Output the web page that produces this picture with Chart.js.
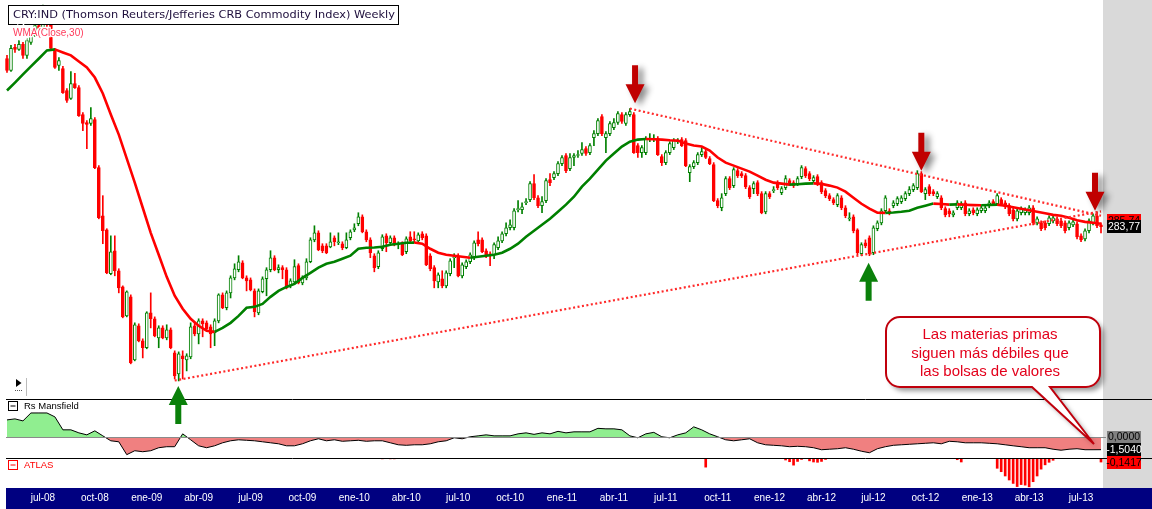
<!DOCTYPE html>
<html><head><meta charset="utf-8">
<script src="https://cdn.jsdelivr.net/npm/chart.js@4.4.1/dist/chart.umd.min.js"></script>
<style>html,body{margin:0;padding:0;background:#fff;overflow:hidden}canvas{display:block}</style>
</head><body>
<canvas id="c" width="1152" height="509"></canvas>
<script>
// ---------- DATA (weekly CRB index) ----------
const openP=[
415.0,403.9,425.5,423.6,428.4,417.9,430.3,437.1,447.1,444.1,
457.4,450.2,422.6,408.5,405.7,386.0,379.1,392.2,388.6,365.6,
359.1,358.3,361.5,324.3,290.9,281.8,255.2,268.8,256.9,247.7,
232.0,242.2,210.1,226.9,219.3,215.9,233.6,230.5,220.8,225.8,
220.8,224.8,213.4,203.5,212.0,210.1,211.5,226.9,222.8,229.4,
228.4,226.3,223.3,229.4,243.3,236.3,244.4,252.8,257.5,261.6,
252.8,251.7,245.5,233.6,245.0,252.3,257.5,264.6,257.5,258.7,
257.5,248.3,250.5,259.9,250.0,252.8,262.2,275.5,279.9,271.8,
271.8,271.2,276.8,273.7,273.1,270.6,276.8,281.8,285.7,290.2,
280.6,275.5,265.8,259.3,270.0,278.0,273.7,276.8,272.5,273.1,
268.2,277.4,276.1,274.9,279.3,278.0,265.8,258.7,250.5,252.3,
248.3,255.2,264.6,265.2,254.0,259.3,262.2,264.6,275.5,275.5,
268.8,267.0,266.4,270.6,274.9,279.3,283.1,283.1,294.9,294.9,
299.6,301.7,312.8,303.0,297.6,301.0,315.6,317.1,320.0,327.3,
333.3,323.6,331.8,333.3,334.8,338.5,335.5,347.1,350.2,364.0,
347.1,350.2,355.0,359.1,365.6,358.3,365.6,365.6,340.9,335.5,
335.5,345.5,345.5,346.3,332.5,328.0,335.5,339.3,343.9,345.5,
344.7,320.7,325.0,328.0,334.0,336.2,331.0,326.5,301.0,296.2,
305.8,316.3,311.4,322.1,320.0,318.5,310.0,309.3,313.5,305.8,
293.5,305.8,307.9,313.5,306.5,310.0,314.9,313.5,312.8,317.8,
323.6,320.0,314.9,317.8,313.5,307.9,304.4,301.7,298.3,303.0,
296.2,288.9,290.2,281.8,267.0,273.7,276.8,267.6,282.5,286.3,
294.2,294.2,297.6,299.0,300.3,302.4,305.8,308.6,310.0,320.0,
305.8,310.7,307.2,303.7,303.0,295.6,294.2,291.5,296.2,296.2,
299.6,292.2,294.9,292.2,294.2,294.2,297.6,300.3,299.0,301.7,
299.6,297.6,294.9,288.9,292.9,292.9,292.9,296.2,286.3,286.3,
286.3,285.7,287.6,288.9,287.6,286.3,283.1,285.0,285.7,278.0,
276.1,281.2,286.3,290.9,285.0];
const highP=[
417.9,427.4,428.4,432.2,430.3,434.2,442.1,454.3,457.4,468.1,
462.6,452.2,424.5,415.9,407.6,387.8,403.0,401.2,390.4,367.3,
360.7,371.5,363.2,325.8,304.4,282.5,278.0,278.0,258.1,248.3,
245.5,243.3,228.4,227.9,220.3,234.2,244.4,231.5,226.9,226.9,
227.4,225.8,214.4,213.9,214.4,213.0,228.4,228.4,230.5,230.5,
229.4,227.4,230.5,243.9,244.4,245.5,254.0,261.0,265.8,262.8,
254.0,252.8,246.6,246.6,253.4,258.7,268.8,265.8,260.4,259.9,
258.7,252.3,263.4,261.0,254.0,264.0,276.8,284.4,281.2,273.1,
273.1,279.9,278.0,279.9,274.3,279.9,281.8,285.7,292.9,291.5,
281.8,276.8,267.0,268.8,278.7,279.3,278.0,278.0,274.3,274.3,
277.4,280.6,280.6,279.9,280.6,279.3,267.0,259.9,255.7,256.9,
256.9,264.0,267.0,267.0,261.6,263.4,267.6,274.9,280.6,276.8,
270.0,268.2,273.7,277.4,280.6,286.3,288.3,295.6,301.0,299.6,
302.4,314.2,319.2,304.4,303.7,316.3,320.0,321.4,328.8,333.3,
334.8,334.8,334.8,337.0,343.2,340.1,342.4,352.6,362.3,365.6,
351.8,359.9,362.3,368.1,367.3,367.3,370.6,367.3,342.4,340.9,
347.9,350.2,349.4,347.9,334.0,337.0,343.9,346.3,346.3,347.1,
346.3,326.5,329.5,335.5,339.3,337.8,332.5,328.0,302.4,305.8,
317.8,317.8,324.3,323.6,321.4,320.0,311.4,314.2,314.9,307.2,
307.2,307.2,310.7,314.9,310.7,318.5,316.3,314.9,317.8,325.8,
325.0,321.4,318.5,319.2,314.9,309.3,305.8,303.0,305.8,304.4,
297.6,292.9,291.5,282.5,273.7,275.5,278.0,284.4,287.6,295.6,
304.4,295.6,301.0,303.7,304.4,307.2,310.7,312.8,322.1,321.4,
310.0,312.1,308.6,307.2,304.4,296.9,295.6,294.2,301.0,300.3,
301.0,295.6,296.2,296.2,297.6,298.3,301.0,301.7,305.8,303.0,
301.0,299.0,296.2,295.6,296.9,296.2,297.6,297.6,290.2,287.6,
287.6,290.9,290.9,290.2,288.9,287.6,287.6,288.3,286.9,279.3,
282.5,288.9,292.2,293.5,286.3];
const lowP=[
402.1,403.0,420.7,422.6,415.0,415.0,428.4,436.2,440.1,442.1,
446.1,422.6,405.7,403.9,383.4,375.7,378.3,387.8,364.0,352.6,
338.5,356.7,323.6,288.9,273.1,255.2,254.6,254.0,244.4,231.0,
231.5,208.2,209.6,218.8,211.0,215.4,225.8,221.3,215.9,220.3,
219.8,215.4,201.2,200.3,201.2,204.9,210.6,221.8,217.8,221.3,
224.3,215.9,216.9,228.4,235.8,235.2,241.6,251.7,256.3,252.3,
245.5,245.5,231.5,232.6,244.4,242.8,256.3,256.9,255.7,252.3,
246.6,247.2,249.4,249.4,248.9,251.7,261.6,274.3,268.8,267.6,
267.0,270.6,271.8,272.5,269.4,270.0,275.5,280.6,284.4,279.9,
274.3,264.6,256.3,258.1,268.8,268.2,272.5,271.8,270.0,265.8,
267.0,273.7,273.7,273.7,275.5,259.9,256.9,247.2,247.2,247.2,
247.2,254.0,258.7,253.4,252.8,258.1,261.0,263.4,271.8,267.6,
264.6,259.9,264.0,269.4,273.7,278.0,281.8,281.8,293.5,292.2,
298.3,300.3,301.7,296.2,292.9,299.6,311.4,315.6,318.5,325.8,
320.7,322.1,325.8,331.8,333.3,333.3,334.0,340.9,348.6,348.6,
335.5,348.6,353.4,357.5,358.3,356.7,364.0,334.8,331.8,331.8,
334.0,343.9,343.9,333.3,325.8,326.5,334.0,337.8,342.4,340.1,
325.0,314.2,323.6,326.5,332.5,331.0,326.5,300.3,296.2,294.2,
304.4,308.6,310.0,317.1,317.1,309.3,302.4,305.8,304.4,292.2,
292.2,302.4,306.5,308.6,305.1,308.6,311.4,310.0,311.4,316.3,
317.1,314.9,313.5,311.4,305.8,303.0,301.0,298.3,296.9,294.9,
289.6,287.6,279.9,266.4,265.8,270.6,265.8,266.4,281.2,285.0,
292.9,291.5,296.2,297.6,299.0,301.0,304.4,307.2,308.6,306.5,
301.7,304.4,304.4,302.4,294.9,290.2,290.2,290.2,294.9,294.9,
290.9,290.9,291.5,290.9,292.9,292.9,296.2,297.6,297.6,297.6,
295.6,290.9,287.6,287.6,291.5,291.5,291.5,285.0,285.0,281.2,
281.8,284.4,286.3,284.4,283.1,279.9,281.8,283.8,276.1,274.3,
274.9,279.9,285.0,283.1,279.9];
const closeP=[
403.9,424.5,423.6,428.4,417.9,432.2,437.1,447.1,444.1,457.4,
450.2,424.5,406.7,413.1,384.2,377.4,392.2,388.6,364.8,358.3,
357.5,362.3,324.3,289.6,281.2,255.7,268.2,256.9,247.2,231.5,
245.0,208.7,227.4,219.3,215.9,233.6,230.5,221.8,225.8,220.8,
224.8,215.9,202.6,212.9,210.6,212.0,226.3,222.8,229.4,227.9,
225.3,222.8,229.4,243.3,236.3,244.4,252.8,258.1,262.2,252.8,
251.1,246.1,234.2,245.5,252.3,257.5,264.6,257.5,258.7,257.5,
247.2,251.1,259.3,250.0,252.8,262.2,275.5,279.9,269.4,268.8,
267.6,274.3,274.3,273.9,270.6,275.5,280.6,283.1,290.2,280.6,
275.5,267.6,258.7,267.6,277.4,273.7,276.8,273.1,273.1,266.4,
276.1,274.9,275.5,278.7,276.8,260.4,258.1,251.1,254.6,248.3,
255.7,262.8,265.2,254.0,260.4,262.2,266.4,273.7,273.1,268.2,
265.8,265.8,272.5,274.9,279.3,283.1,285.0,294.2,295.6,296.9,
300.3,312.8,303.0,297.6,300.3,314.9,313.5,320.0,327.3,331.8,
322.1,331.8,333.3,334.0,337.8,334.8,340.9,350.2,360.7,350.2,
350.2,358.3,359.1,366.4,359.9,365.6,368.1,335.5,335.5,339.3,
346.3,346.3,346.3,334.0,328.0,335.5,342.4,344.7,344.7,340.9,
325.8,325.0,328.0,334.0,336.2,331.8,327.3,301.0,297.6,303.0,
316.3,310.0,322.8,318.5,318.5,310.7,303.7,312.8,305.8,292.9,
305.8,303.7,308.6,310.0,309.3,316.3,312.8,311.4,316.3,324.3,
318.5,316.3,317.1,312.8,307.2,304.4,302.4,299.6,304.4,296.2,
290.9,289.6,281.2,267.6,272.5,271.8,267.0,283.1,286.3,294.2,
303.0,292.9,299.6,302.4,303.0,305.8,308.6,311.4,320.0,307.2,
308.6,305.8,305.8,305.8,296.2,291.5,292.2,292.9,299.6,299.0,
292.2,294.2,292.9,294.9,296.2,296.2,299.6,299.0,304.4,299.0,
296.9,292.2,288.9,294.2,295.6,294.9,296.2,286.3,288.9,282.5,
283.1,289.6,289.6,285.7,284.4,281.2,286.3,286.9,277.4,275.5,
281.2,287.6,290.9,284.4,283.77];
// WMA(Close,30), read every second week
const wmaEven=[
386.0,393.0,400.3,407.6,415.0,422.6,423.6,420.7,417.9,412.2,
406.7,397.5,383.4,365.6,349.4,331.0,313.5,296.2,279.9,266.4,
253.4,242.8,235.8,230.5,226.9,224.3,223.8,225.8,228.4,232.0,
236.3,236.8,238.4,242.2,245.5,247.7,249.4,252.8,255.7,258.7,
261.0,262.2,264.0,265.8,270.0,270.6,270.8,271.2,272.5,273.1,
273.7,273.8,273.1,270.0,267.6,266.4,265.8,265.2,264.6,265.2,
265.8,266.4,267.6,270.0,273.1,277.4,281.2,285.0,288.9,293.5,
298.3,303.7,310.7,316.3,322.8,329.5,334.8,340.1,343.9,345.5,
346.0,345.8,345.5,345.0,344.7,342.4,340.9,340.1,337.0,331.8,
328.0,325.8,323.6,321.4,318.5,315.6,313.5,312.8,312.1,312.4,
312.8,313.0,312.6,311.4,310.0,307.2,303.0,298.9,295.6,292.9,
292.8,293.0,293.5,294.2,296.2,297.6,299.0,298.7,298.3,298.5,
298.2,298.0,297.9,298.1,298.3,297.6,296.6,295.6,294.5,293.5,
292.5,291.5,290.9,289.6,287.9,286.9,286.3,285.7];
// Rs Mansfield, read every second week
const rsEven=[
2.06,2.18,1.94,2.89,2.89,2.89,2.42,0.87,0.87,0.51,
0.27,0.75,0.15,-0.44,-0.56,-2.1,-1.63,-1.75,-1.63,-1.27,
-1.15,-1.15,0.39,-0.32,-1.04,-1.27,-1.04,-0.68,-0.44,-0.32,
-0.38,-0.44,-0.56,-0.68,-0.80,-1.04,-1.04,-0.80,-0.44,-0.20,
-0.44,-0.32,-0.50,-0.44,-0.38,-0.50,-0.44,-0.44,-0.68,-0.92,
-0.98,-0.92,-0.92,-0.80,-0.56,-0.44,-0.08,-0.20,0.04,0.15,
0.27,0.15,0.15,0.15,0.39,0.51,0.33,0.51,0.39,0.69,
0.51,0.63,0.63,0.63,1.05,0.99,0.99,0.87,0.15,-0.08,
0.39,0.57,0.04,-0.08,0.27,0.51,1.23,0.87,0.39,0.04,
-0.32,-0.44,-0.32,-0.20,-0.68,-0.92,-0.98,-1.04,-1.15,-1.10,
-1.15,-1.27,-1.51,-1.45,-1.39,-1.27,-1.45,-1.69,-1.87,-1.39,
-1.15,-0.98,-0.92,-0.86,-0.80,-0.74,-0.68,-0.80,-0.50,-0.56,
-0.68,-0.68,-0.68,-0.74,-0.80,-0.92,-1.04,-1.15,-1.27,-1.27,
-1.27,-1.45,-1.57,-1.45,-1.39,-1.51,-1.51,-1.504];
// ATLAS (non-zero weeks only)
const atlasWeeks=[94,96,97,175,195,196,197,198,199,201,202,203,204,205,238,239,
248,249,250,251,252,253,254,255,256,257,258,259,260,261,262,274];
const atlasVals=[-0.03,-0.03,-0.03,-0.32,-0.07,-0.13,-0.25,-0.12,-0.05,-0.10,-0.14,-0.15,-0.12,-0.05,-0.06,-0.14,
-0.36,-0.48,-0.63,-0.77,-0.89,-1.00,-0.93,-0.95,-1.01,-0.83,-0.63,-0.39,-0.24,-0.15,-0.08,-0.1417];
// x tick labels
const tickWeeks=[9,22,35,48,61,74,87,100,113,126,139,152,165,178,191,204,217,230,243,256,269];
const tickLabels=['jul-08','oct-08','ene-09','abr-09','jul-09','oct-09','ene-10','abr-10','jul-10','oct-10',
'ene-11','abr-11','jul-11','oct-11','ene-12','abr-12','jul-12','oct-12','ene-13','abr-13','jul-13'];
// trend lines (week index, price)
const upperTrend={from:156,fromVal:370.6,to:274,toVal:290.9};
const lowerTrend={from:42,fromVal:200.5,to:274,toVal:293.8};
// arrows (week index, tip price)
const arrowMarks=[
 {i:157.3,price:375.0,dir:'down'},{i:229,price:322.1,dir:'down'},{i:272.5,price:294.2,dir:'down'},
 {i:42.9,price:198.0,dir:'up'},{i:215.8,price:261.6,dir:'up'}];
const lastWma=285.74, lastClose=283.77, lastRs=-1.504, lastAtlas=-0.1417;

// ---------- BUILD ----------
const N=closeP.length;
const weeks=[];
for(let i=0;i<N;i++){const d=new Date(Date.UTC(2008,4,2+7*i));weeks.push(d.toISOString().slice(0,10));}
const GREEN='#008000', RED='#ff0000';
const up=closeP.map((c,i)=>c>=openP[i]);
const bodies=openP.map((o,i)=>[o,closeP[i]]);
const wicks=lowP.map((l,i)=>[l,highP[i]]);
const wmaPts=wmaEven.map((v,k)=>({x:weeks[2*k],y:v}));
const rsPts=rsEven.map((v,k)=>({x:weeks[2*k],y:v}));
const atlasData=new Array(N).fill(null); atlasWeeks.forEach((w,j)=>{atlasData[w]=atlasVals[j];});
const trendPts=t=>[{x:weeks[t.from],y:t.fromVal},{x:weeks[t.to],y:t.toVal}];
const tickMap={}; tickWeeks.forEach((w,j)=>{tickMap[w]=tickLabels[j];});
const fmt=(v,d)=>v.toFixed(d).replace('.',',');

function drawArrow(ctx,x,tip,dir,color,shadow){
  const hw=9.5,hl=19,sw=3,sl=19,s=dir==='down'?-1:1;
  ctx.save();
  if(shadow){ctx.shadowColor='rgba(0,0,0,0.45)';ctx.shadowBlur=6;ctx.shadowOffsetX=5;ctx.shadowOffsetY=3;}
  ctx.beginPath();
  ctx.moveTo(x,tip);ctx.lineTo(x-hw,tip+s*hl);ctx.lineTo(x-sw,tip+s*hl);ctx.lineTo(x-sw,tip+s*(hl+sl));
  ctx.lineTo(x+sw,tip+s*(hl+sl));ctx.lineTo(x+sw,tip+s*hl);ctx.lineTo(x+hw,tip+s*hl);ctx.closePath();
  ctx.fillStyle=color;ctx.fill();ctx.restore();
}
function valBox(ctx,x,yc,txt,bg,fg){
  ctx.fillStyle=bg;ctx.fillRect(x,Math.round(yc-6.5),34,13);
  ctx.fillStyle=fg;ctx.font='10.5px "Liberation Sans", Arial, sans-serif';ctx.textAlign='center';ctx.textBaseline='middle';
  ctx.fillText(txt,x+17,yc+0.5);
}
const deco={
  id:'deco',
  beforeDraw(chart){
    const {ctx,chartArea:a,width,height}=chart;
    ctx.save();
    ctx.fillStyle='#fff';ctx.fillRect(0,0,width,height);
    ctx.fillStyle='#d9d9d9';ctx.fillRect(a.right,0,width-a.right,a.bottom);
    ctx.fillStyle='#000080';ctx.fillRect(6,a.bottom,width-6,height-a.bottom);
    ctx.restore();
  },
  afterDatasetsDraw(chart){
    const {ctx,chartArea:a,width,scales}=chart;
    ctx.save();
    const y0=Math.round(scales.yRs.getPixelForValue(0))+0.5;
    ctx.strokeStyle='#8a8a8a';ctx.lineWidth=1;ctx.beginPath();ctx.moveTo(6,y0);ctx.lineTo(a.right+3,y0);ctx.stroke();
    ctx.strokeStyle='#000';
    [scales.yMain.bottom,scales.yRs.bottom].forEach(y=>{const yy=Math.round(y)+0.5;ctx.beginPath();ctx.moveTo(6,yy);ctx.lineTo(width,yy);ctx.stroke();});
    ctx.restore();
  },
  afterDraw(chart){
    const {ctx,chartArea:a,scales}=chart;
    const x=scales.x, yM=scales.yMain, yR=scales.yRs, yA=scales.yAtlas;
    ctx.save();
    // title box
    const title='CRY:IND (Thomson Reuters/Jefferies CRB Commodity Index) Weekly';
    ctx.font='12px "DejaVu Sans"';
    const fs=12*382/ctx.measureText(title).width;
    ctx.fillStyle='#fff';ctx.fillRect(8.5,5.5,390,19);
    ctx.strokeStyle='#000';ctx.lineWidth=1;ctx.strokeRect(8.5,5.5,390,19);
    ctx.font=fs.toFixed(2)+'px "DejaVu Sans"';ctx.fillStyle='#1e0f3c';ctx.textAlign='left';ctx.textBaseline='middle';
    ctx.fillText(title,13,15.5);
    // WMA label
    ctx.font='10px "Liberation Sans", Arial, sans-serif';
    ctx.lineWidth=2.5;ctx.strokeStyle='#fff';ctx.strokeText('WMA(Close,30)',13,33);
    ctx.fillStyle='#ff3a5a';ctx.fillText('WMA(Close,30)',13,33);
    // play icon
    ctx.fillStyle='#000';ctx.beginPath();ctx.moveTo(16,379);ctx.lineTo(21.5,383);ctx.lineTo(16,387);ctx.closePath();ctx.fill();
    ctx.fillStyle='#555';for(let k=0;k<4;k++)ctx.fillRect(15+k*2,390,1,1);
    ctx.fillStyle='#bbb';ctx.fillRect(26,378,1,18);
    // panel headers
    const top2=Math.round(yR.top), top3=Math.round(yA.top);
    ctx.lineWidth=1;
    ctx.strokeStyle='#000';ctx.strokeRect(8.5,top2+2.5,9,9);ctx.beginPath();ctx.moveTo(10.5,top2+7);ctx.lineTo(15.5,top2+7);ctx.stroke();
    ctx.fillStyle='#000';ctx.font='9.5px "Liberation Sans", Arial, sans-serif';ctx.fillText('Rs Mansfield',24,top2+7.5);
    ctx.strokeStyle='#ff0000';ctx.strokeRect(8.5,top3+2.5,9,9);ctx.beginPath();ctx.moveTo(10.5,top3+7);ctx.lineTo(15.5,top3+7);ctx.stroke();
    ctx.fillStyle='#ff0000';ctx.fillText('ATLAS',24,top3+7.5);
    // arrows
    arrowMarks.forEach(m=>{
      const px=x.getPixelForValue(m.i), py=yM.getPixelForValue(m.price);
      if(m.dir==='down') drawArrow(ctx,px,py,'down','#c00000',true);
      else drawArrow(ctx,px,py,'up','#0a800a',false);
    });
    // callout
    const L=886,R=1100,T=317,B=387,r=14,tx=1094,ty=444,b1=1032,b2=1050;
    ctx.beginPath();
    ctx.moveTo(L+r,T);ctx.lineTo(R-r,T);ctx.arcTo(R,T,R,T+r,r);ctx.lineTo(R,B-r);ctx.arcTo(R,B,R-r,B,r);
    ctx.lineTo(b2,B);ctx.lineTo(tx,ty);ctx.lineTo(b1,B);
    ctx.lineTo(L+r,B);ctx.arcTo(L,B,L,B-r,r);ctx.lineTo(L,T+r);ctx.arcTo(L,T,L+r,T,r);ctx.closePath();
    ctx.save();ctx.shadowColor='rgba(0,0,0,0.4)';ctx.shadowBlur=5;ctx.shadowOffsetX=4;ctx.shadowOffsetY=4;
    ctx.fillStyle='#fff';ctx.fill();ctx.restore();
    ctx.strokeStyle='#c0000c';ctx.lineWidth=2;ctx.stroke();
    ctx.fillStyle='#e3001b';ctx.font='15px "Liberation Sans", Arial, sans-serif';ctx.textAlign='center';ctx.textBaseline='alphabetic';
    ctx.fillText('Las materias primas',990,339);
    ctx.fillText('siguen más débiles que',990,358);
    ctx.fillText('las bolsas de valores',990,376);
    // value boxes on the right
    const bx=a.right+4;
    valBox(ctx,bx,yM.getPixelForValue(lastWma)-3,fmt(lastWma,2),'#ff0000','#000');
    valBox(ctx,bx,yM.getPixelForValue(lastClose),fmt(lastClose,2),'#000','#fff');
    valBox(ctx,bx,yR.getPixelForValue(0),fmt(0,4),'#808080','#000');
    valBox(ctx,bx,yA.getPixelForValue(lastAtlas)+0.5,fmt(lastAtlas,4),'#ff0000','#000');
    valBox(ctx,bx,yR.getPixelForValue(lastRs),fmt(lastRs,4),'#000','#fff');
    ctx.restore();
  }
};
const hiddenY=(extra)=>Object.assign({position:'right',stack:'p',grid:{display:false},border:{display:false},ticks:{display:false},afterFit:s=>{s.width=0;}},extra);
new Chart(document.getElementById('c'),{
  data:{labels:weeks,datasets:[
    {type:'line',data:trendPts(upperTrend),yAxisID:'yMain',borderColor:'#ff2a2a',borderWidth:2.2,borderDash:[2,2.5],pointRadius:0},
    {type:'line',data:trendPts(lowerTrend),yAxisID:'yMain',borderColor:'#ff2a2a',borderWidth:2.2,borderDash:[2,2.5],pointRadius:0},
    {type:'line',data:wmaPts,yAxisID:'yMain',borderColor:RED,borderWidth:2.6,pointRadius:0,tension:0,
      segment:{borderColor:c=>c.p1.parsed.y>c.p0.parsed.y?GREEN:RED}},
    {type:'bar',data:bodies,yAxisID:'yMain',barThickness:3,grouped:false,minBarLength:1,borderSkipped:false,borderWidth:1,
      backgroundColor:up.map(u=>u?'#ffffff':RED),borderColor:up.map(u=>u?GREEN:RED)},
    {type:'bar',data:wicks,yAxisID:'yMain',barThickness:1,grouped:false,backgroundColor:up.map(u=>u?GREEN:RED)},
    {type:'line',data:rsPts,yAxisID:'yRs',borderColor:'#000',borderWidth:1,pointRadius:0,tension:0,
      fill:{target:{value:0},above:'#90ee90',below:'#f08080'}},
    {type:'bar',data:atlasData,yAxisID:'yAtlas',barThickness:2,grouped:false,backgroundColor:RED}
  ]},
  options:{
    responsive:false,animation:false,devicePixelRatio:1,events:[],
    layout:{padding:{left:5,right:49,top:0,bottom:0}},
    plugins:{legend:{display:false},tooltip:{enabled:false}},
    scales:{
      x:{type:'category',offset:true,grid:{display:false,drawTicks:false},border:{display:false},
        ticks:{autoSkip:false,maxRotation:0,minRotation:0,color:'#ffffff',padding:4,
          font:{family:'"Liberation Sans", Arial, sans-serif',size:10},callback:(v,i)=>tickMap[i]||''},
        afterFit:s=>{s.height=21;}},
      yMain:hiddenY({type:'logarithmic',stackWeight:399,min:192.3,max:473.6,bounds:'data'}),
      yRs:hiddenY({type:'linear',stackWeight:59,min:-2.5,max:4.56,bounds:'data'}),
      yAtlas:hiddenY({type:'linear',stackWeight:30,min:-1.05,max:0,bounds:'data'})
    }
  },
  plugins:[deco]
});
</script>
</body></html>
